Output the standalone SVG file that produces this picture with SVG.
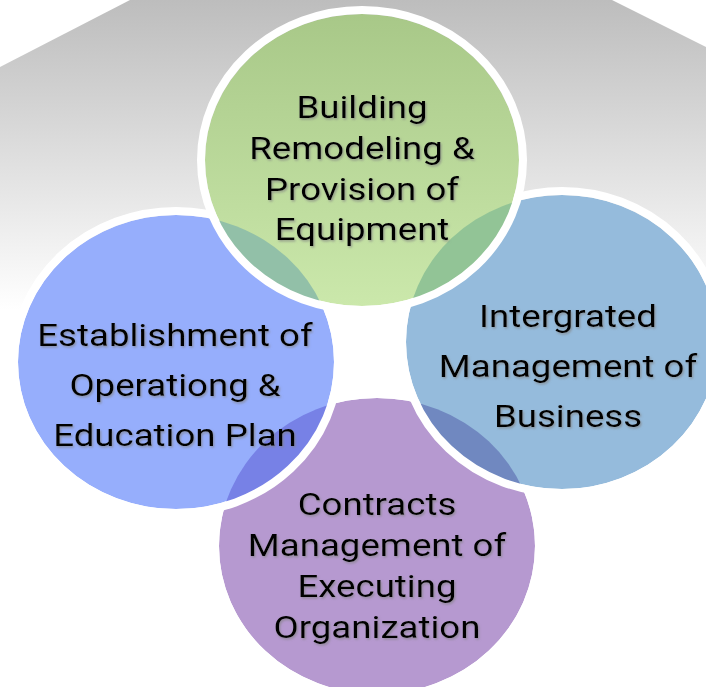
<svg xmlns="http://www.w3.org/2000/svg" width="706" height="687" viewBox="0 0 706 687">
<defs>
<linearGradient id="bg" x1="0" y1="0" x2="0" y2="310" gradientUnits="userSpaceOnUse">
<stop offset="0" stop-color="#bdbdbd"/>
<stop offset="1" stop-color="#ffffff"/>
</linearGradient>
<linearGradient id="greenGrad" x1="0" y1="0" x2="0" y2="1">
<stop offset="0" stop-color="#a8c888"/>
<stop offset="1" stop-color="#cbe8ab"/>
</linearGradient>
<filter id="shadow" x="-10%" y="-20%" width="120%" height="150%">
<feDropShadow dx="1" dy="1.5" stdDeviation="1" flood-color="#808080" flood-opacity="0.7"/>
</filter>
<clipPath id="clipGreen"><ellipse cx="362" cy="160" rx="160" ry="149"/></clipPath>
<clipPath id="clipLeft"><ellipse cx="176" cy="362" rx="160" ry="149"/></clipPath>
<clipPath id="clipRight"><ellipse cx="562" cy="342" rx="158" ry="149"/></clipPath>
</defs>
<style>
.ring{fill:none;stroke:#ffffff;stroke-width:8}
.label{font-family:Roboto,"Liberation Sans",sans-serif;font-size:32px;fill:#000000;text-anchor:middle;filter:url(#shadow)}
</style>
<polygon points="130,0 612,0 706,47 706,320 0,320 0,67" fill="url(#bg)"/>
<g id="node-contracts">
<ellipse cx="377" cy="546" rx="158" ry="148" fill="#b699d0"/>
<ellipse class="ring" cx="377" cy="546" rx="162" ry="152"/>
<text class="label" transform="translate(377,0) scale(1.145,1)"><tspan x="0" y="515">Contracts</tspan><tspan x="0" y="556">Management of</tspan><tspan x="0" y="597">Executing</tspan><tspan x="0" y="638">Organization</tspan></text>
</g>
<g id="node-establishment">
<ellipse cx="176" cy="362" rx="158" ry="147" fill="#96aefc"/>
<ellipse cx="377" cy="546" rx="158" ry="148" fill="#7781e6" clip-path="url(#clipLeft)"/>
<ellipse class="ring" cx="176" cy="362" rx="162" ry="151"/>
<text class="label" transform="translate(175,0) scale(1.145,1)"><tspan x="0" y="346">Establishment of</tspan><tspan x="0" y="396">Operationg &amp;</tspan><tspan x="0" y="446">Education Plan</tspan></text>
</g>
<g id="node-integrated">
<ellipse cx="562" cy="342" rx="156" ry="147" fill="#95bbdc"/>
<ellipse cx="377" cy="546" rx="158" ry="148" fill="#7088c0" clip-path="url(#clipRight)"/>
<ellipse class="ring" cx="562" cy="342" rx="160" ry="151"/>
<text class="label" transform="translate(568,0) scale(1.145,1)"><tspan x="0" y="327">Intergrated</tspan><tspan x="0" y="377">Management of</tspan><tspan x="0" y="427">Business</tspan></text>
</g>
<g id="node-building">
<ellipse cx="362" cy="160" rx="157" ry="146" fill="url(#greenGrad)"/>
<ellipse cx="176" cy="362" rx="158" ry="147" fill="#92c0a8" clip-path="url(#clipGreen)"/>
<ellipse cx="562" cy="342" rx="156" ry="147" fill="#92c496" clip-path="url(#clipGreen)"/>
<ellipse class="ring" cx="362" cy="160" rx="161" ry="150"/>
<text class="label" transform="translate(362,0) scale(1.145,1)"><tspan x="0" y="118">Building</tspan><tspan x="0" y="159">Remodeling &amp;</tspan><tspan x="0" y="200">Provision of</tspan><tspan x="0" y="240">Equipment</tspan></text>
</g>
<g id="connectors"/>
</svg>
